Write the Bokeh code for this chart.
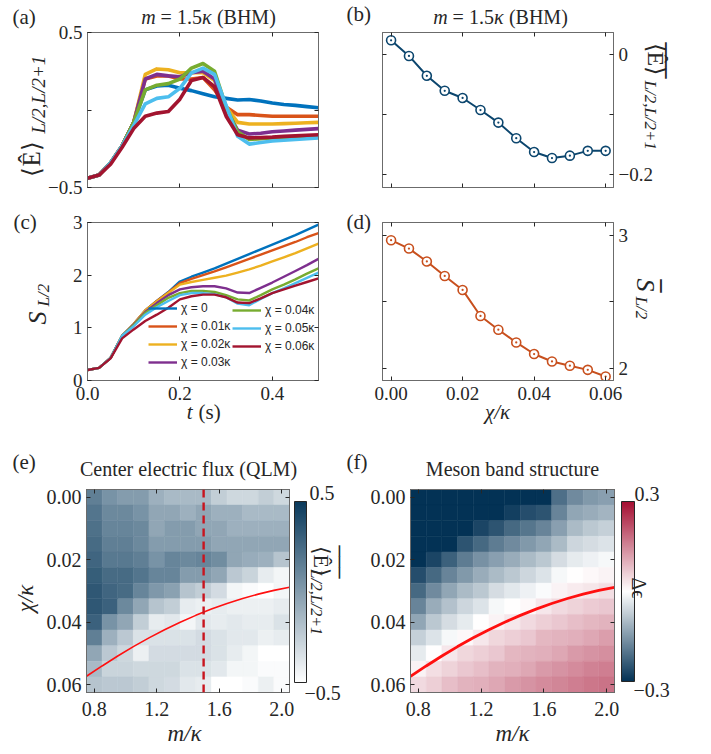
import math
from bokeh.plotting import figure
from bokeh.models import (LinearAxis, FixedTicker, CustomJSTickFormatter, Label, Legend, LegendItem,
                          ColorBar, LinearColorMapper, Range1d, ColumnDataSource, Span, GridBox)
from bokeh.layouts import column, row
from bokeh.embed import file_html
from bokeh.resources import INLINE

# ---------------- data ----------------
t = [0.0, 0.025, 0.05, 0.075, 0.1, 0.125, 0.15, 0.175, 0.2, 0.225, 0.25,
     0.275, 0.3, 0.325, 0.35, 0.375, 0.4, 0.425, 0.45, 0.475, 0.5]
chi_labels = ["χ = 0", "χ = 0.01κ", "χ = 0.02κ", "χ = 0.03κ", "χ = 0.04κ", "χ = 0.05κ", "χ = 0.06κ"]

E_chi0 = [-0.44, -0.42, -0.34, -0.23, -0.08, 0.13, 0.155, 0.16, 0.14, 0.125, 0.105, 0.085, 0.075, 0.065, 0.068, 0.058, 0.045, 0.035, 0.03, 0.022, 0.015]
E_chi1 = [-0.44, -0.42, -0.34, -0.23, -0.08, 0.20, 0.22, 0.22, 0.20, 0.20, 0.21, 0.13, 0.02, -0.03, -0.03, -0.035, -0.04, -0.04, -0.04, -0.04, -0.04]
E_chi2 = [-0.44, -0.42, -0.34, -0.23, -0.08, 0.23, 0.265, 0.26, 0.24, 0.24, 0.24, 0.19, 0.02, -0.08, -0.09, -0.09, -0.09, -0.088, -0.085, -0.082, -0.08]
E_chi3 = [-0.44, -0.42, -0.34, -0.23, -0.08, 0.20, 0.23, 0.22, 0.215, 0.24, 0.25, 0.20, 0.0, -0.13, -0.155, -0.15, -0.14, -0.135, -0.13, -0.125, -0.12]
E_chi4 = [-0.44, -0.42, -0.34, -0.23, -0.08, 0.13, 0.16, 0.17, 0.20, 0.27, 0.30, 0.25, 0.02, -0.14, -0.19, -0.185, -0.18, -0.178, -0.175, -0.172, -0.17]
E_chi5 = [-0.44, -0.42, -0.34, -0.23, -0.10, 0.04, 0.075, 0.085, 0.14, 0.24, 0.27, 0.23, 0.03, -0.17, -0.22, -0.21, -0.20, -0.195, -0.19, -0.185, -0.18]
E_chi6 = [-0.44, -0.42, -0.35, -0.24, -0.12, -0.04, -0.02, -0.01, 0.07, 0.19, 0.21, 0.15, -0.04, -0.16, -0.18, -0.178, -0.175, -0.17, -0.167, -0.163, -0.16]

S_chi0 = [0.2, 0.24, 0.43, 0.85, 1.07, 1.33, 1.51, 1.68, 1.88, 1.97, 2.05, 2.13, 2.22, 2.31, 2.40, 2.49, 2.58, 2.67, 2.76, 2.86, 2.96]
S_chi1 = [0.2, 0.24, 0.43, 0.85, 1.07, 1.33, 1.51, 1.67, 1.85, 1.93, 2.00, 2.07, 2.15, 2.23, 2.31, 2.39, 2.47, 2.55, 2.63, 2.72, 2.80]
S_chi2 = [0.2, 0.24, 0.43, 0.85, 1.07, 1.33, 1.50, 1.66, 1.82, 1.87, 1.91, 1.95, 1.99, 2.05, 2.11, 2.18, 2.26, 2.34, 2.42, 2.51, 2.60]
S_chi3 = [0.2, 0.24, 0.43, 0.85, 1.06, 1.30, 1.47, 1.62, 1.73, 1.77, 1.79, 1.79, 1.75, 1.67, 1.66, 1.76, 1.86, 1.97, 2.08, 2.19, 2.31]
S_chi4 = [0.2, 0.24, 0.43, 0.85, 1.05, 1.28, 1.43, 1.57, 1.66, 1.70, 1.70, 1.68, 1.62, 1.54, 1.52, 1.62, 1.73, 1.82, 1.92, 2.03, 2.13]
S_chi5 = [0.2, 0.24, 0.43, 0.85, 1.03, 1.25, 1.39, 1.51, 1.62, 1.66, 1.66, 1.64, 1.58, 1.46, 1.43, 1.55, 1.66, 1.75, 1.85, 1.95, 2.05]
S_chi6 = [0.2, 0.24, 0.42, 0.80, 0.97, 1.13, 1.25, 1.38, 1.54, 1.60, 1.63, 1.63, 1.58, 1.48, 1.47, 1.56, 1.66, 1.73, 1.80, 1.87, 1.94]

chi_avg = [0.0, 0.005, 0.01, 0.015, 0.02, 0.025, 0.03, 0.035, 0.04, 0.045, 0.05, 0.055, 0.06]
E_avg = [0.023, -0.003, -0.036, -0.061, -0.073, -0.093, -0.114, -0.140, -0.163, -0.173, -0.169, -0.161, -0.161]
S_avg = [2.962, 2.899, 2.802, 2.693, 2.588, 2.392, 2.289, 2.193, 2.106, 2.050, 2.018, 1.987, 1.937]

m_grid = [0.8, 0.9, 1.0, 1.1, 1.2, 1.3, 1.4, 1.5, 1.6, 1.7, 1.8, 1.9, 2.0]
chi_grid = [0.0, 0.005, 0.01, 0.015, 0.02, 0.025, 0.03, 0.035, 0.04, 0.045, 0.05, 0.055, 0.06]

flux_map = [
    [0.15, 0.05, 0.0, 0.0, -0.1, -0.15, -0.15, -0.15, -0.25, -0.3, -0.3, -0.25, -0.3],
    [0.2, 0.1, 0.1, 0.05, -0.05, -0.05, -0.1, -0.05, -0.1, -0.1, -0.15, -0.15, -0.15],
    [0.22, 0.12, 0.12, 0.1, -0.05, 0.0, 0.0, -0.05, -0.05, -0.1, -0.1, -0.1, -0.1],
    [0.25, 0.15, 0.15, 0.1, 0.0, 0.0, 0.0, 0.0, -0.05, -0.05, -0.05, -0.05, -0.05],
    [0.28, 0.18, 0.18, 0.15, 0.05, 0.12, 0.1, 0.12, 0.08, -0.05, -0.08, -0.1, -0.2],
    [0.32, 0.25, 0.25, 0.2, 0.12, 0.12, 0.0, 0.0, -0.05, -0.22, -0.28, -0.4, -0.45],
    [0.35, 0.28, 0.25, 0.12, 0.02, -0.02, -0.2, -0.25, -0.32, -0.45, -0.48, -0.5, -0.45],
    [0.35, 0.3, 0.1, -0.05, -0.2, -0.25, -0.4, -0.42, -0.4, -0.42, -0.42, -0.42, -0.4],
    [0.3, 0.05, -0.05, -0.25, -0.4, -0.38, -0.45, -0.38, -0.4, -0.38, -0.4, -0.4, -0.35],
    [0.15, -0.1, -0.22, -0.35, -0.35, -0.35, -0.35, -0.32, -0.35, -0.38, -0.38, -0.42, -0.4],
    [-0.05, -0.22, -0.3, -0.42, -0.32, -0.32, -0.32, -0.32, -0.35, -0.4, -0.45, -0.5, -0.5],
    [-0.15, -0.28, -0.28, -0.3, -0.3, -0.3, -0.35, -0.35, -0.38, -0.45, -0.45, -0.48, -0.48],
    [-0.2, -0.22, -0.22, -0.25, -0.3, -0.32, -0.38, -0.4, -0.5, -0.5, -0.48, -0.42, -0.48],
]
band_map = [
    [-0.3, -0.3, -0.3, -0.3, -0.3, -0.3, -0.3, -0.3, -0.3, -0.21, -0.17, -0.15, -0.14],
    [-0.3, -0.3, -0.3, -0.3, -0.3, -0.3, -0.28, -0.26, -0.25, -0.18, -0.13, -0.12, -0.11],
    [-0.3, -0.3, -0.3, -0.3, -0.27, -0.25, -0.22, -0.2, -0.18, -0.14, -0.1, -0.08, -0.07],
    [-0.3, -0.3, -0.3, -0.25, -0.22, -0.19, -0.17, -0.15, -0.13, -0.1, -0.06, -0.05, -0.04],
    [-0.3, -0.27, -0.23, -0.19, -0.16, -0.14, -0.12, -0.1, -0.08, -0.05, -0.03, -0.02, -0.01],
    [-0.26, -0.22, -0.18, -0.15, -0.12, -0.1, -0.08, -0.06, -0.04, -0.01, 0.0, 0.008, 0.016],
    [-0.22, -0.17, -0.13, -0.1, -0.08, -0.05, -0.035, -0.02, -0.005, 0.016, 0.024, 0.032, 0.04],
    [-0.18, -0.12, -0.09, -0.06, -0.04, -0.01, 0.0, 0.008, 0.03, 0.045, 0.055, 0.065, 0.07],
    [-0.13, -0.08, -0.05, -0.03, 0.0, 0.015, 0.03, 0.045, 0.06, 0.07, 0.08, 0.09, 0.095],
    [-0.07, -0.04, -0.01, 0.008, 0.03, 0.05, 0.06, 0.07, 0.09, 0.095, 0.1, 0.11, 0.12],
    [-0.03, 0.0, 0.03, 0.05, 0.06, 0.07, 0.09, 0.095, 0.1, 0.11, 0.125, 0.135, 0.14],
    [0.015, 0.04, 0.055, 0.07, 0.08, 0.095, 0.1, 0.11, 0.125, 0.135, 0.145, 0.155, 0.16],
    [0.045, 0.06, 0.08, 0.095, 0.1, 0.11, 0.125, 0.135, 0.145, 0.15, 0.16, 0.17, 0.175],
]
curve_m = [0.75, 0.85, 0.95, 1.05, 1.15, 1.25, 1.35, 1.45, 1.55, 1.65, 1.75, 1.85, 1.95, 2.05]
curve_chi = [0.0573, 0.0540, 0.0508, 0.0478, 0.0450, 0.0424, 0.0400, 0.0378, 0.0358, 0.0340, 0.0324, 0.0310, 0.0298, 0.0288]
m_cut = 1.5

# ---------------- style ----------------
SERIF = "Liberation Serif"
SANS = "Liberation Sans"
TXT = "#262626"
AXC = "#6b6b6b"
COLORS = ["#0072BD", "#D95319", "#EDB120", "#7E2F8E", "#77AC30", "#4DBEEE", "#A2142F"]


def ramp(stops, n=256):
    out = []
    for i in range(n):
        f = i / (n - 1)
        for (p0, c0), (p1, c1) in zip(stops[:-1], stops[1:]):
            if p0 <= f <= p1:
                u = (f - p0) / (p1 - p0)
                c = [round(a + (b - a) * u) for a, b in zip(c0, c1)]
                out.append("#%02x%02x%02x" % tuple(c))
                break
    return out


pal_flux = ramp([(0, (255, 255, 255)), (1, (10, 58, 92))])
pal_band = ramp([(0, (3, 50, 85)), (0.5, (255, 255, 255)), (1, (165, 15, 50))])


def make_fig(origin, size, frame, xr, yr):
    ox, oy = origin
    w, h = size
    L, T, R, B = frame
    p = figure(width=w, height=h, x_range=xr, y_range=yr, output_backend="svg",
               toolbar_location=None, x_axis_type=None, y_axis_type=None,
               min_border_left=L - ox, min_border_right=ox + w - R,
               min_border_top=T - oy, min_border_bottom=oy + h - B)
    p.outline_line_color = AXC
    p.outline_line_width = 1
    p.background_fill_color = "white"
    p.border_fill_color = "white"
    return p


def add_axis(p, side, ticks, minor=(), code=None, size=19, standoff=5):
    ax = LinearAxis(ticker=FixedTicker(ticks=list(ticks), minor_ticks=list(minor)))
    ax.axis_line_color = AXC
    ax.major_tick_in = 4
    ax.major_tick_out = 0
    ax.minor_tick_in = 4
    ax.minor_tick_out = 0
    ax.major_tick_line_color = TXT
    ax.minor_tick_line_color = TXT
    if code is None:
        ax.formatter = CustomJSTickFormatter(code="return ''")
        ax.major_label_text_font_size = "0px"
        ax.major_label_standoff = 0
    else:
        ax.formatter = CustomJSTickFormatter(code=code)
        ax.major_label_text_font = SERIF
        ax.major_label_text_font_size = f"{size}px"
        ax.major_label_text_color = TXT
        ax.major_label_standoff = standoff
    p.add_layout(ax, side)


# transparent overlay figure holding the free texts (page pixel coordinates)
W, H = 711, 754
ov = figure(width=W, height=H, x_range=Range1d(0, W), y_range=Range1d(H, 0),
            output_backend="svg", toolbar_location=None, x_axis_type=None, y_axis_type=None,
            min_border=0, min_border_left=0, min_border_right=0, min_border_top=0, min_border_bottom=0)
ov.outline_line_color = None
ov.background_fill_color = None
ov.border_fill_color = None


def put(X, Y, text, size, italic=False, angle=0.0, align="left", baseline="middle", font=SERIF):
    ov.add_layout(Label(x=X, y=Y, text=text, angle=angle, text_align=align, text_baseline=baseline,
                        text_font=font, text_font_size=f"{size}px",
                        text_font_style="italic" if italic else "normal", text_color=TXT))


def bhm_title(cx, Y):
    # "m = 1.5κ (BHM)" with italic m and κ, centred on cx
    x0 = cx - 67.3
    put(x0 + 14.4, Y, "m", 20, italic=True, align="right")
    put(x0 + 19.4, Y, "= 1.5", 20)
    put(x0 + 60.7, Y, "κ", 20, italic=True)
    put(x0 + 75.7, Y, "(BHM)", 20)


UP = math.pi / 2
DOWN = -math.pi / 2
FMT1 = "return tick.toFixed(1).replace('-', '\u2212')"
FMT0 = "return tick.toFixed(0)"
FMT2 = "return tick.toFixed(2)"

# ---------------- (a) ----------------
pa = make_fig((0, 0), (345, 200), (87, 28, 318, 187), Range1d(0, 0.5), Range1d(-0.5, 0.5))
add_axis(pa, "below", [0, 0.2, 0.4])
add_axis(pa, "above", [0, 0.2, 0.4])
add_axis(pa, "left", [-0.5, 0.5], [0], FMT1, 19)
add_axis(pa, "right", [-0.5, 0.5], [0])
E_series = [E_chi0, E_chi1, E_chi2, E_chi3, E_chi4, E_chi5, E_chi6]
for ys, c in zip(E_series, COLORS):
    pa.line(t, ys, line_color=c, line_width=3.6, line_join="round")
put(12, 16, "(a)", 21)
bhm_title(208, 16)
put(31, 176, "⟨Ê⟩", 25, angle=UP, baseline="alphabetic")
put(38, 133, "L/2,L/2+1", 19, italic=True, angle=UP, baseline="alphabetic")

# ---------------- (b) ----------------
pb = make_fig((345, 0), (366, 200), (382, 32, 613, 188), Range1d(-0.0024, 0.0622), Range1d(-0.222, 0.036))
add_axis(pb, "below", [0, 0.02, 0.04, 0.06])
add_axis(pb, "above", [0, 0.02, 0.04, 0.06])
add_axis(pb, "left", [-0.2, 0], [-0.1])
add_axis(pb, "right", [-0.2, 0], [-0.1], "return tick == 0 ? '0' : tick.toFixed(1).replace('-', '\u2212')", 19)
pb.line(chi_avg, E_avg, line_color="#0c466e", line_width=2)
pb.scatter(chi_avg, E_avg, marker="circle_dot", size=9, line_color="#0c466e",
           fill_color="white", line_width=1.6)
put(346, 13, "(b)", 21)
bhm_title(500, 16)
put(655, 42, "⟨Ê⟩", 24, angle=DOWN, baseline="alphabetic")
put(655, 42, "‾‾‾", 24, angle=DOWN, baseline="alphabetic", font="DejaVu Sans")
put(650, 80, "L/2,L/2+1", 17, italic=True, angle=DOWN, baseline="alphabetic")

# ---------------- (c) ----------------
pc = make_fig((0, 200), (345, 230), (87, 222, 318, 381), Range1d(0, 0.5), Range1d(0, 3))
add_axis(pc, "below", [0, 0.2, 0.4], (), FMT1, 19, 6)
add_axis(pc, "above", [0, 0.2, 0.4])
add_axis(pc, "left", [0, 1, 2, 3], (), FMT0, 19)
add_axis(pc, "right", [0, 1, 2, 3])
S_series = [S_chi0, S_chi1, S_chi2, S_chi3, S_chi4, S_chi5, S_chi6]
lines_c = []
for ys, c in zip(S_series, COLORS):
    lines_c.append(pc.line(t, ys, line_color=c, line_width=2.4, line_join="round"))
for idx, loc in (([0, 1, 2, 3], (61, 11)), ([4, 5, 6], (145, 27))):
    leg = Legend(items=[LegendItem(label=chi_labels[i], renderers=[lines_c[i]]) for i in idx],
                 location=loc, glyph_width=29, glyph_height=12, label_height=12,
                 label_standoff=4, spacing=4, padding=0, margin=0,
                 border_line_alpha=0, background_fill_alpha=0,
                 label_text_font=SANS, label_text_font_size="12px", label_text_color=TXT)
    pc.add_layout(leg)
put(13, 221, "(c)", 21)
put(37, 324, "S", 26, italic=True, angle=UP, baseline="alphabetic")
put(43, 306, "L/2", 17, italic=True, angle=UP, baseline="alphabetic")
put(192, 411, "t", 21, italic=True, align="right")
put(198, 411, "(s)", 21)

# ---------------- (d) ----------------
pd_ = make_fig((345, 200), (366, 230), (382, 222, 613, 380), Range1d(-0.0024, 0.0622), Range1d(1.907, 3.095))
add_axis(pd_, "below", [0, 0.02, 0.04, 0.06], (), FMT2, 19, 6)
add_axis(pd_, "above", [0, 0.02, 0.04, 0.06])
add_axis(pd_, "left", [2, 3], [2.5])
add_axis(pd_, "right", [2, 3], [2.5], FMT0, 19)
pd_.line(chi_avg, S_avg, line_color="#c8501e", line_width=2)
pd_.scatter(chi_avg, S_avg, marker="circle_dot", size=9, line_color="#c8501e",
            fill_color="white", line_width=1.6)
put(346, 221, "(d)", 21)
put(497, 411, "χ/κ", 21, italic=True, align="center")
put(645, 278, "S", 26, italic=True, angle=DOWN, baseline="alphabetic")
put(650, 279, "‾", 26, angle=DOWN, baseline="alphabetic", font="DejaVu Sans")
put(641, 296, "L/2", 17, italic=True, angle=DOWN, baseline="alphabetic")


# ---------------- heatmap helpers ----------------
def grid_source(values):
    xs, ys, vs = [], [], []
    for j, chi in enumerate(chi_grid):
        for i, m in enumerate(m_grid):
            xs.append(m)
            ys.append(chi)
            vs.append(values[j][i])
    return ColumnDataSource(dict(m=xs, chi=ys, v=vs))


def heat_axes(p):
    add_axis(p, "below", [0.8, 1.2, 1.6, 2.0], (), FMT1, 20, 9)
    add_axis(p, "above", [0.8, 1.2, 1.6, 2.0])
    add_axis(p, "left", [0, 0.02, 0.04, 0.06], (), FMT2, 20, 5)
    add_axis(p, "right", [0, 0.02, 0.04, 0.06])


def colorbar(mapper, loc, w, h):
    return ColorBar(color_mapper=mapper, location=loc, orientation="vertical", width=w, height=h,
                    padding=0, margin=0, ticker=FixedTicker(ticks=[]), bar_line_color=TXT,
                    bar_line_width=1, major_tick_line_color=None, major_label_text_font_size="0px",
                    border_line_color=None, background_fill_alpha=0)


# ---------------- (e) ----------------
pe = make_fig((0, 430), (345, 324), (86, 489, 289, 692), Range1d(0.75, 2.05), Range1d(0.0625, -0.0025))
pe.outline_line_color = TXT
map_e = LinearColorMapper(palette=pal_flux, low=-0.5, high=0.5)
pe.rect(x="m", y="chi", width=0.1, height=0.005, source=grid_source(flux_map),
        fill_color={"field": "v", "transform": map_e},
        line_color={"field": "v", "transform": map_e}, line_width=0.5)
pe.line(curve_m, curve_chi, line_color="#ff1010", line_width=1.6)
pe.add_layout(Span(location=m_cut, dimension="height", line_color="#c8141e",
                   line_width=2.4, line_dash="8 5"))
heat_axes(pe)
pe.add_layout(colorbar(map_e, (208, 10), 12, 181))
put(12, 461, "(e)", 21)
put(188, 468, "Center electric flux (QLM)", 20, align="center")
put(25, 598, "χ/κ", 23, italic=True, angle=UP, align="center")
put(184, 733, "m/κ", 23, italic=True, align="center")
put(309, 492, "0.5", 20)
put(304, 692, "−0.5", 20)
put(321, 545, "⟨Ê⟩", 22, angle=DOWN, baseline="alphabetic")
put(331, 545, "‾‾‾", 22, angle=DOWN, baseline="alphabetic", font="DejaVu Sans")
put(316, 569, "L/2,L/2+1", 16, italic=True, angle=DOWN, baseline="alphabetic")

# ---------------- (f) ----------------
pf = make_fig((345, 430), (366, 324), (410, 489, 614, 692), Range1d(0.75, 2.05), Range1d(0.0625, -0.0025))
pf.outline_line_color = TXT
map_f = LinearColorMapper(palette=pal_band, low=-0.3, high=0.3)
pf.rect(x="m", y="chi", width=0.1, height=0.005, source=grid_source(band_map),
        fill_color={"field": "v", "transform": map_f},
        line_color={"field": "v", "transform": map_f}, line_width=0.5)
pf.line(curve_m, curve_chi, line_color="#ff1010", line_width=2.8)
heat_axes(pf)
pf.add_layout(colorbar(map_f, (211, 11), 13, 180))
put(346, 461, "(f)", 21)
put(512, 468, "Meson band structure", 20, align="center")
put(512, 733, "m/κ", 23, italic=True, align="center")
put(634, 493, "0.3", 20)
put(633, 689, "−0.3", 20)
put(638, 577, "Δϵ", 20, angle=DOWN, baseline="alphabetic")

panels = column(row(pa, pb), row(pc, pd_), row(pe, pf))
layout = GridBox(children=[(panels, 0, 0), (ov, 0, 0)], spacing=0)
open("out.html", "w").write(file_html(layout, INLINE))
